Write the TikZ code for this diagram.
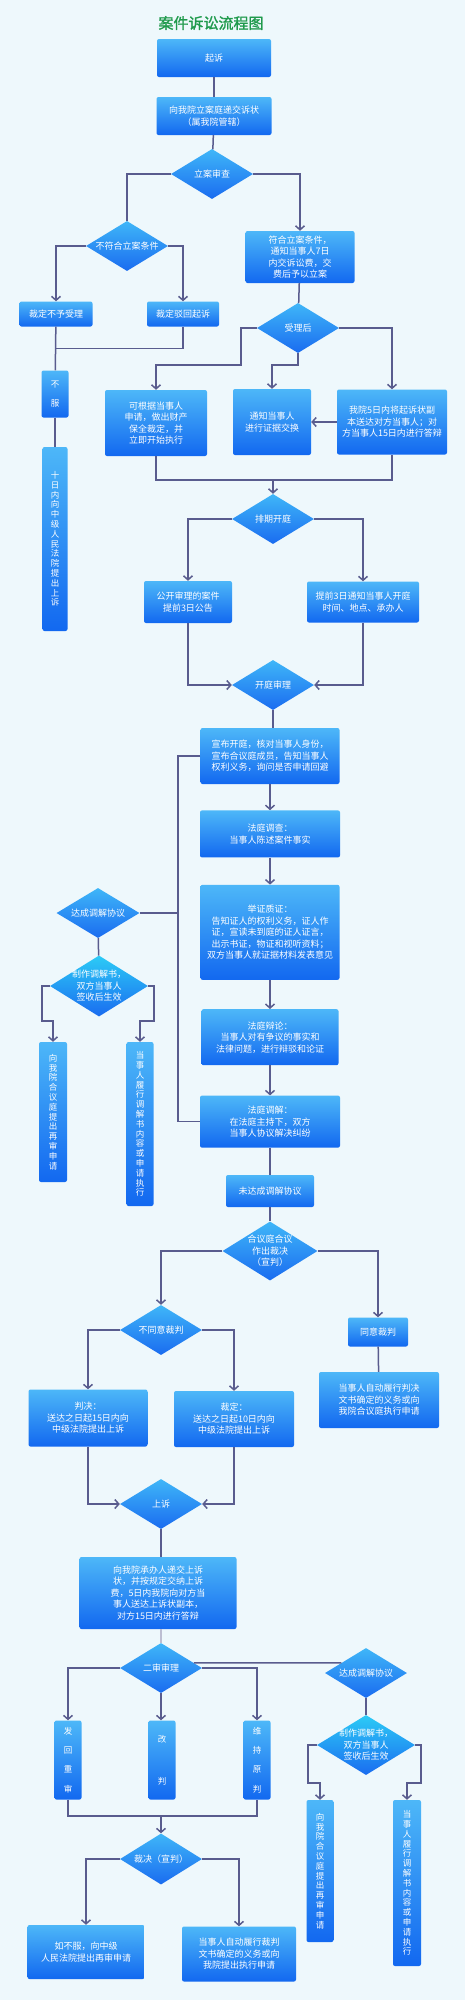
\documentclass[tikz,border=0pt]{standalone}
\usepackage{fontspec}
\newfontfamily\cjk{Noto Sans CJK SC}
\newfontfamily\cjktitle[FakeBold=1.5]{Noto Sans CJK SC}
\usetikzlibrary{shapes.geometric, arrows.meta, positioning, calc}
\definecolor{bgcol}{HTML}{EEF8FC}
\definecolor{boxtop}{HTML}{4DB7F8}
\definecolor{boxbot}{HTML}{1268F0}
\definecolor{decitop}{HTML}{3FB6F8}
\definecolor{decibot}{HTML}{1A6CF0}
\definecolor{cyantop}{HTML}{2CCBF6}
\definecolor{linecol}{HTML}{595C8E}
\definecolor{titlecol}{HTML}{1F9A4C}

\begin{document}
\begin{tikzpicture}[
    x=1pt, y=-1pt,
    box/.style={rectangle, rounded corners=2pt, top color=boxtop, bottom color=boxbot, text=white, font=\cjk\fontsize{9}{11.5}\selectfont, align=center, inner sep=1pt},
    vbox/.style={box, font=\cjk\fontsize{8.5}{9.8}\selectfont, inner sep=0pt},
    decision/.style={diamond, aspect=1.6, top color=decitop, bottom color=decibot, text=white, font=\cjk\fontsize{9}{11.5}\selectfont, align=center, inner sep=0pt, minimum width=82pt, minimum height=50pt},
    line/.style={draw=linecol, line width=1.5pt},
    arrow/.style={line, -{Straight Barb[length=4pt, width=9pt]}}
]
    \fill[bgcol] (0,0) rectangle (465,2000);
    \node[font=\cjktitle\fontsize{15}{18}\selectfont, text=titlecol] (title) at (211,23) {案件诉讼流程图};

    \node[box, minimum width=114pt, minimum height=38pt] (qisu) at (214,58) {起诉};
    \node[box, minimum width=115pt, minimum height=38pt] (dijiao) at (214,116) {向我院立案庭递交诉状\\（属我院管辖）};
    \node[decision] (lian) at (212,174) {立案审查};
    \node[decision] (bufu) at (127,246) {不符合立案条件};
    \node[box, minimum width=73pt, minimum height=25pt] (buyu) at (56,314) {裁定不予受理};
    \node[box, minimum width=72pt, minimum height=25pt] (bohui) at (183,314) {裁定驳回起诉};
    \node[box, minimum width=109pt, minimum height=52pt] (fuhe) at (300,257) {符合立案条件，\\通知当事人7日\\内交诉讼费，交\\费后予以立案};
    \node[decision] (shouli) at (298,328) {受理后};
    \node[vbox, font=\cjk\fontsize{8.5}{19}\selectfont, minimum width=27pt, minimum height=47pt] (bufu2) at (55,394) {不\\服};
    \node[vbox, minimum width=25pt, minimum height=184pt] (shangsu1) at (55,539) {十\\日\\内\\向\\中\\级\\人\\民\\法\\院\\提\\出\\上\\诉};
    \node[box, minimum width=102pt, minimum height=66pt] (baoquan) at (156,423) {可根据当事人\\申请，做出财产\\保全裁定，并\\立即开始执行};
    \node[box, minimum width=78pt, minimum height=66pt] (jiaohuan) at (272,422) {通知当事人\\进行证据交换};
    \node[box, minimum width=110pt, minimum height=65pt] (songda) at (392,422) {我院5日内将起诉状副\\本送达对方当事人；对\\方当事人15日内进行答辩};
    \node[decision] (paiqi) at (273,519) {排期开庭};
    \node[box, minimum width=88pt, minimum height=42pt] (gonggao) at (188,602) {公开审理的案件\\提前3日公告};
    \node[box, minimum width=112pt, minimum height=41pt] (tongzhi) at (363,602) {提前3日通知当事人开庭\\时间、地点、承办人};
    \node[decision] (kaiting) at (273,685) {开庭审理};
    \node[box, minimum width=139pt, minimum height=56pt] (xuanbu) at (270,756) {宣布开庭，核对当事人身份，\\宣布合议庭成员，告知当事人\\权利义务，询问是否申请回避};
    \node[box, minimum width=140pt, minimum height=47pt, below=26pt of xuanbu] (diaocha) {法庭调查：\\当事人陈述案件事实};
    \node[box, minimum width=139pt, minimum height=95pt, below=27pt of diaocha] (juzheng) {举证质证：\\告知证人的权利义务，证人作\\证，宣读未到庭的证人证言，\\出示书证，物证和视听资料；\\双方当事人就证据材料发表意见};
    \node[box, minimum width=137pt, minimum height=56pt, below=29pt of juzheng] (bianlun) {法庭辩论：\\当事人对有争议的事实和\\法律问题，进行辩驳和论证};
    \node[box, minimum width=140pt, minimum height=52pt, below=30pt of bianlun] (tiaojie) {法庭调解：\\在法庭主持下，双方\\当事人协议解决纠纷};
    \node[decision, minimum width=83pt] (dacheng1) at (98,913) {达成调解协议};
    \node[decision, top color=cyantop, minimum width=98pt, minimum height=61pt, inner sep=-9pt] (zhizuo1) at (99,986) {制作调解书，\\双方当事人\\签收后生效};
    \node[vbox, minimum width=28pt, minimum height=140pt] (zaishen1) at (53,1112) {向\\我\\院\\合\\议\\庭\\提\\出\\再\\审\\申\\请};
    \node[vbox, minimum width=27pt, minimum height=164pt] (lvxing1) at (140,1124) {当\\事\\人\\履\\行\\调\\解\\书\\内\\容\\或\\申\\请\\执\\行};
    \node[box, minimum width=88pt, minimum height=32pt, below=27pt of tiaojie] (weida) {未达成调解协议};
    \node[decision, minimum width=95pt, minimum height=59pt, inner sep=-8pt] (heyi) at (270,1251) {合议庭合议\\作出裁决\\（宣判）};
    \node[decision] (butongyi) at (161,1330) {不同意裁判};
    \node[box, minimum width=60pt, minimum height=29pt] (tongyi) at (378,1332) {同意裁判};
    \node[box, minimum width=120pt, minimum height=56pt] (lvxingpj) at (379,1400) {当事人自动履行判决\\文书确定的义务或向\\我院合议庭执行申请};
    \node[box, minimum width=119pt, minimum height=57pt] (panjue) at (88,1418) {判决：\\送达之日起15日内向\\中级法院提出上诉};
    \node[box, minimum width=120pt, minimum height=56pt] (caiding) at (234,1419) {裁定：\\送达之日起10日内向\\中级法院提出上诉};
    \node[decision] (shangsu2) at (161,1504) {上诉};
    \node[box, minimum width=157pt, minimum height=72pt] (shangsuzhuang) at (158,1593) {向我院承办人递交上诉\\状，并按规定交纳上诉\\费，5日内我院向对方当\\事人送达上诉状副本，\\对方15日内进行答辩};
    \node[decision] (ershen) at (161,1668) {二审审理};
    \node[decision] (dacheng2) at (366,1673) {达成调解协议};
    \node[vbox, font=\cjk\fontsize{8.5}{19.3}\selectfont, minimum width=27pt, minimum height=79pt] (fahui) at (68,1760) {发\\回\\重\\审};
    \node[vbox, font=\cjk\fontsize{8.5}{19.3}\selectfont, minimum width=27pt, minimum height=79pt] (gaipan) at (162,1760) {改\\[23pt]判};
    \node[vbox, font=\cjk\fontsize{8.5}{19.3}\selectfont, minimum width=27pt, minimum height=79pt] (weichi) at (257,1760) {维\\持\\原\\判};
    \node[decision, minimum height=51pt] (caijue) at (161,1859) {裁决（宣判）};
    \node[box, minimum width=117pt, minimum height=54pt] (rubufu) at (86,1952) {如不服，向中级\\人民法院提出再审申请};
    \node[box, minimum width=114pt, minimum height=55pt] (lvxingcp) at (239,1954) {当事人自动履行裁判\\文书确定的义务或向\\我院提出执行申请};
    \node[decision, top color=cyantop, minimum width=98pt, minimum height=60pt, inner sep=-9pt] (zhizuo2) at (366,1745) {制作调解书，\\双方当事人\\签收后生效};
    \node[vbox, minimum width=27pt, minimum height=142pt] (zaishen2) at (320,1871) {向\\我\\院\\合\\议\\庭\\提\\出\\再\\审\\申\\请};
    \node[vbox, minimum width=28pt, minimum height=166pt] (lvxing2) at (407,1883) {当\\事\\人\\履\\行\\调\\解\\书\\内\\容\\或\\申\\请\\执\\行};

    \coordinate (b1) at (241,365);
    \coordinate (m1) at (273,480);
    \coordinate (v1) at (178,756);
    \coordinate (m2) at (161,1816);

    \draw[line] (qisu) -- (dijiao);
    \draw[line] (dijiao) -- (lian);
    \draw[line] (lian.west) -| (bufu.north);
    \draw[arrow] (lian.east) -| (fuhe.north);
    \draw[arrow] (bufu.west) -| (buyu.north);
    \draw[arrow] (bufu.east) -| (bohui.north);
    \draw[line] (fuhe) -- (shouli);
    \draw[line] (buyu) -- (bufu2);
    \draw[line] (bohui.south) |- ($(buyu.south)!0.5!(bufu2.north)$);
    \draw[line] (bufu2) -- (shangsu1);
    \draw[arrow] (shouli.west) -| (b1) -| (baoquan.north);
    \draw[arrow] (shouli.south) -- ++(0,12) -| (jiaohuan.north);
    \draw[arrow] (shouli.east) -| (songda.north);
    \draw[arrow] (songda.west) -- (jiaohuan.east);
    \draw[line] (baoquan.south) -- ++(0,24) -| (songda.south);
    \draw[arrow] (m1) -- (paiqi.north);
    \draw[arrow] (paiqi.west) -| (gonggao.north);
    \draw[arrow] (paiqi.east) -| (tongzhi.north);
    \draw[arrow] (gonggao.south) |- (kaiting.west);
    \draw[arrow] (tongzhi.south) |- (kaiting.east);
    \draw[line] (kaiting.south) -- (kaiting.south |- xuanbu.north);
    \draw[arrow] (xuanbu) -- (diaocha);
    \draw[arrow] (diaocha) -- (juzheng);
    \draw[arrow] (juzheng) -- (bianlun);
    \draw[arrow] (bianlun) -- (tiaojie);
    \draw[line] (xuanbu.west) -- (v1) |- (tiaojie.west);
    \draw[line] (dacheng1.east) -- (dacheng1.east -| v1);
    \draw[line] (dacheng1) -- (zhizuo1);
    \draw[arrow] (zhizuo1.west) -- ++(-8,0) -- ++(0,35) -| (zaishen1.north);
    \draw[arrow] (zhizuo1.east) -- ++(6,0) -- ++(0,35) -| (lvxing1.north);
    \draw[line] (tiaojie) -- (weida);
    \draw[line] (weida) -- (heyi);
    \draw[arrow] (heyi.west) -| (butongyi.north);
    \draw[arrow] (heyi.east) -| (tongyi.north);
    \draw[line] (tongyi) -- (lvxingpj);
    \draw[arrow] (butongyi.west) -| (panjue.north);
    \draw[arrow] (butongyi.east) -| (caiding.north);
    \draw[arrow] (panjue.south) |- (shangsu2.west);
    \draw[arrow] (caiding.south) |- (shangsu2.east);
    \draw[line] (shangsu2.south) -- (shangsu2.south |- shangsuzhuang.north);
    \draw[line, draw=linecol!40] (shangsuzhuang.south -| ershen.north) -- (ershen.north);
    \draw[line] ($(ershen.east)!0.2!(ershen.north)$) -- ($(dacheng2.west)!0.4!(dacheng2.north)$);
    \draw[arrow] (ershen.west) -| (fahui.north);
    \draw[arrow] (ershen.south) -- (gaipan.north -| ershen.south);
    \draw[arrow] (ershen.east) -| (weichi.north);
    \draw[line] (fahui.south) |- (m2) -| (weichi.south);
    \draw[arrow] (m2) -- (caijue.north);
    \draw[arrow] (caijue.west) -| (rubufu.north);
    \draw[arrow] (caijue.east) -| (lvxingcp.north);
    \draw[line] (dacheng2) -- (zhizuo2);
    \draw[arrow] (zhizuo2.west) -- ++(-9,0) -- ++(0,38) -| (zaishen2.north);
    \draw[arrow] (zhizuo2.east) -- ++(6,0) -- ++(0,38) -| (lvxing2.north);
\end{tikzpicture}
\end{document}
